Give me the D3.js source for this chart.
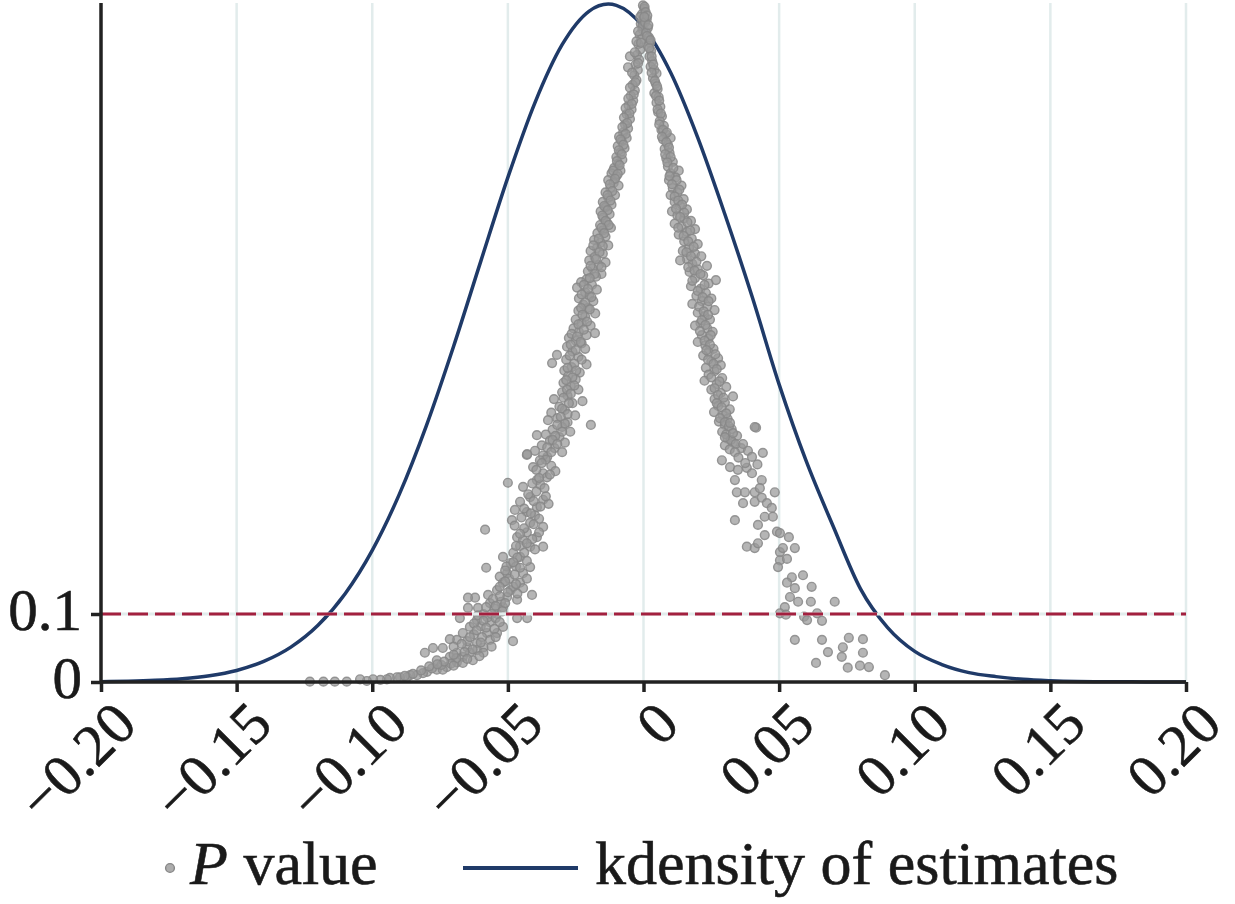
<!DOCTYPE html>
<html>
<head>
<meta charset="utf-8">
<script src="https://cdn.jsdelivr.net/npm/d3@7"></script>
<style>
  html, body { margin: 0; padding: 0; background: #ffffff; }
  svg { display: block; }
  text { font-family: "Liberation Serif", "Times New Roman", serif; fill: #1a1a1a; stroke: #1a1a1a; stroke-width: 0.6; }
</style>
</head>
<body>
<svg id="chart" width="1235" height="904"></svg>
<script>
// ---------------- data ----------------
const xTicks = [-0.20, -0.15, -0.10, -0.05, 0, 0.05, 0.10, 0.15, 0.20];
const xTickLabels = ["\u22120.20", "\u22120.15", "\u22120.10", "\u22120.05", "0", "0.05", "0.10", "0.15", "0.20"];
const yTicks = [0, 0.1];
const yTickLabels = ["0", "0.1"];
const pThreshold = 0.1;

// kernel density of estimates (scaled to the plot height)
const kdX = [-0.20,-0.19,-0.18,-0.17,-0.16,-0.15,-0.14,-0.13,-0.12,-0.11,-0.10,-0.09,-0.08,-0.07,-0.06,-0.05,-0.04,-0.03,-0.02,-0.013,-0.01,0.00,0.01,0.02,0.03,0.04,0.05,0.06,0.07,0.08,0.09,0.10,0.11,0.12,0.13,0.14,0.15,0.16,0.17,0.18,0.19,0.20];
const kdY = [0.0005,0.0011,0.0024,0.0048,0.0092,0.0170,0.0303,0.0513,0.0834,0.1299,0.1936,0.2763,0.3775,0.4938,0.6186,0.7420,0.8521,0.9372,0.9867,0.9970,0.9951,0.9631,0.8963,0.8006,0.6879,0.5673,0.4377,0.3247,0.2283,0.1370,0.0800,0.0450,0.0256,0.0138,0.0079,0.0039,0.0019,0.0008,0.0004,0.0002,0.0001,0.0000];

// P values of placebo estimates: [estimate, p]
const pLeftUpper = [[-0.0002,0.995],[0.0003,0.99],[-0.0006,0.982],[0.0000,0.975],[-0.0010,0.968],[-0.0004,0.96],[-0.0014,0.952],[-0.0008,0.945],[-0.0019,0.938],[-0.0012,0.93],[-0.0024,0.922],[-0.0016,0.915],[-0.0029,0.908],[-0.0050,0.92],[-0.0057,0.904],[-0.0021,0.9],[-0.0034,0.892],[-0.0026,0.885],[-0.0040,0.878],[-0.0032,0.87],[-0.0047,0.862],[-0.0038,0.855],[-0.0055,0.848],[-0.0044,0.842],[-0.0062,0.835],[-0.0050,0.828],[-0.0068,0.82],[-0.0057,0.814],[-0.0075,0.808],[-0.0090,0.802],[-0.0062,0.8],[-0.0080,0.795],[-0.0095,0.788],[-0.0070,0.785],[-0.0086,0.778],[-0.0100,0.772],[-0.0078,0.768],[-0.0093,0.762],[-0.0108,0.756],[-0.0085,0.752],[-0.0118,0.748],[-0.0100,0.744],[-0.0130,0.738],[-0.0110,0.734],[-0.0092,0.73],[-0.0122,0.726],[-0.0140,0.72],[-0.0105,0.716],[-0.0130,0.712],[-0.0150,0.706],[-0.0118,0.702],[-0.0140,0.698],[-0.0158,0.692],[-0.0125,0.688],[-0.0148,0.683],[-0.0135,0.676],[-0.0160,0.672],[-0.0120,0.668],[-0.0150,0.664],[-0.0170,0.66],[-0.0140,0.655],[-0.0182,0.65],[-0.0158,0.646],[-0.0130,0.642],[-0.0172,0.638],[-0.0195,0.634],[-0.0150,0.63],[-0.0180,0.625],[-0.0200,0.62],[-0.0140,0.617],[-0.0165,0.613],[-0.0188,0.608],[-0.0205,0.604],[-0.0155,0.6],[-0.0175,0.596],[-0.0210,0.592],[-0.0230,0.588],[-0.0190,0.584],[-0.0245,0.58],[-0.0172,0.577],[-0.0215,0.573],[-0.0200,0.568],[-0.0238,0.564],[-0.0185,0.56],[-0.0222,0.555],[-0.0205,0.55],[-0.0240,0.546],[-0.0178,0.542],[-0.0215,0.537],[-0.0250,0.533],[-0.0228,0.528],[-0.0195,0.524],[-0.0258,0.52],[-0.0238,0.515],[-0.0179,0.513],[-0.0210,0.51],[-0.0275,0.506],[-0.0250,0.502],[-0.0228,0.498],[-0.0282,0.493],[-0.0215,0.49],[-0.0262,0.486],[-0.0319,0.481],[-0.0240,0.478],[-0.0285,0.474],[-0.0337,0.469],[-0.0210,0.467],[-0.0265,0.463],[-0.0292,0.458],[-0.0235,0.455],[-0.0278,0.45],[-0.0250,0.445],[-0.0295,0.44],[-0.0268,0.435],[-0.0240,0.43],[-0.0300,0.426],[-0.0280,0.421],[-0.0330,0.416],[-0.0225,0.413],[-0.0262,0.41],[-0.0310,0.405],[-0.0290,0.4],[-0.0340,0.396],[-0.0252,0.392],[-0.0318,0.388],[-0.0352,0.385],[-0.0280,0.382],[-0.0194,0.378],[-0.0300,0.375],[-0.0335,0.371],[-0.0270,0.368],[-0.0360,0.364],[-0.0393,0.363],[-0.0310,0.36],[-0.0345,0.355],[-0.0290,0.352],[-0.0375,0.348],[-0.0328,0.344],[-0.0400,0.34],[-0.0300,0.338],[-0.0430,0.334],[-0.0355,0.331],
[-0.0012,0.978],[-0.0003,0.965],[-0.0020,0.957],[-0.0026,0.942],[-0.0009,0.94],[-0.0032,0.926],[-0.0020,0.91],[-0.0042,0.896],[-0.0030,0.882],[-0.0050,0.874],[-0.0036,0.864],[-0.0056,0.858],[-0.0043,0.85],[-0.0066,0.844],[-0.0052,0.836],[-0.0072,0.83],[-0.0060,0.822],[-0.0078,0.816],[-0.0066,0.806],[-0.0085,0.798],[-0.0074,0.79],[-0.0091,0.782],[-0.0080,0.776],[-0.0098,0.766],[-0.0088,0.76],[-0.0112,0.752],[-0.0095,0.747],[-0.0105,0.74],[-0.0124,0.732],[-0.0115,0.722],[-0.0133,0.716],[-0.0122,0.708],[-0.0145,0.7],[-0.0132,0.694],[-0.0152,0.686],[-0.0140,0.678],[-0.0128,0.672],[-0.0155,0.668],[-0.0145,0.66],[-0.0165,0.652],[-0.0150,0.641],[-0.0185,0.642],[-0.0162,0.632],[-0.0175,0.622],[-0.0155,0.61],[-0.0195,0.612],[-0.0180,0.6],[-0.0198,0.594],[-0.0220,0.584],[-0.0205,0.578],[-0.0228,0.57],[-0.0192,0.566],[-0.0215,0.558],[-0.0230,0.55],[-0.0198,0.548],[-0.0225,0.54],[-0.0208,0.53],[-0.0240,0.526],[-0.0220,0.518],[-0.0265,0.512],[-0.0245,0.508],[-0.0232,0.5],[-0.0268,0.496],[-0.0250,0.488],[-0.0272,0.48],[-0.0228,0.474],[-0.0255,0.468],[-0.0280,0.462],[-0.0248,0.458],[-0.0262,0.448],[-0.0285,0.444],[-0.0255,0.436],[-0.0282,0.43],[-0.0268,0.424],[-0.0295,0.418],[-0.0275,0.41],[-0.0300,0.402],[-0.0280,0.394],[-0.0305,0.39],[-0.0290,0.38],[-0.0318,0.378],[-0.0300,0.368],[-0.0325,0.362],[-0.0335,0.356],[-0.0318,0.35],[-0.0355,0.345],[-0.0340,0.338],[-0.0370,0.333]];

const pLeftLower = [[-0.0360,0.327],[-0.0382,0.326],[-0.0407,0.316],[-0.0340,0.318],[-0.0370,0.307],[-0.0393,0.297],[-0.0356,0.301],[-0.0325,0.31],[-0.0429,0.335],[-0.0444,0.287],[-0.0380,0.29],[-0.0418,0.272],[-0.0370,0.268],[-0.0393,0.257],[-0.0350,0.262],[-0.0500,0.293],[-0.0474,0.253],[-0.0485,0.238],[-0.0418,0.234],[-0.0370,0.228],[-0.0393,0.213],[-0.0466,0.213],[-0.0444,0.209],[-0.0418,0.199],[-0.0370,0.199],[-0.0584,0.224],[-0.0455,0.184],[-0.0518,0.184],[-0.0490,0.175],[-0.0418,0.169],[-0.0580,0.168],[-0.0503,0.16],[-0.0444,0.16],[-0.0455,0.146],[-0.0518,0.146],[-0.0444,0.138],[-0.0490,0.135],[-0.0540,0.135],[-0.0573,0.128],[-0.0411,0.128],[-0.0503,0.125],[-0.0621,0.124],[-0.0647,0.124],[-0.0466,0.121],[-0.0566,0.116],[-0.0518,0.11],[-0.0647,0.109],[-0.0610,0.109],[-0.0540,0.10],[-0.0590,0.10],[-0.0677,0.094],[-0.0429,0.094],[-0.0466,0.094],[-0.0614,0.091],[-0.0566,0.088],[-0.0518,0.081],[-0.0640,0.081],[-0.0540,0.072],[-0.0577,0.072],[-0.0666,0.072],[-0.0566,0.062],[-0.0688,0.062],[-0.0714,0.063],[-0.0481,0.06],[-0.0614,0.057],[-0.0590,0.051],[-0.0650,0.051],[-0.0740,0.05],[-0.0776,0.05],[-0.0614,0.047],[-0.0640,0.043],[-0.0590,0.043],[-0.0688,0.043],[-0.0806,0.043],[-0.0666,0.037],[-0.0714,0.037],[-0.0629,0.032],[-0.0762,0.032],[-0.0688,0.029],[-0.0666,0.028],[-0.0725,0.022],[-0.0762,0.018],[-0.0740,0.018],[-0.0798,0.015],[-0.0813,0.013],[-0.0835,0.010],[-0.0860,0.010],[-0.0872,0.007],[-0.0898,0.007],[-0.0909,0.007],[-0.0935,0.006],[-0.0946,0.004],[-0.0970,0.003],[-0.0997,0.004],[-0.1020,0.0015],[-0.1045,0.004],[-0.1094,0.0005],[-0.1138,0.0005],[-0.1180,0.0005],[-0.1230,0.0005],[-0.0430,0.25],[-0.0455,0.265],[-0.0400,0.245],[-0.0475,0.23],[-0.0430,0.22],[-0.0455,0.2],[-0.0480,0.19],[-0.0470,0.17],[-0.0505,0.17],[-0.0495,0.152],[-0.0530,0.155],[-0.0480,0.14],[-0.0525,0.118],[-0.0550,0.108],[-0.0575,0.095],[-0.0600,0.082],[-0.0625,0.07],[-0.0650,0.06],[-0.0700,0.052],[-0.0560,0.052],[-0.0690,0.035],[-0.0710,0.027],[-0.0745,0.025],[-0.0780,0.02],[-0.0820,0.017],[-0.0850,0.012],[-0.0880,0.009],
[-0.0375,0.322],[-0.0395,0.312],[-0.0345,0.305],[-0.0385,0.3],[-0.0410,0.292],[-0.0365,0.285],[-0.0395,0.28],[-0.0425,0.276],[-0.0360,0.273],[-0.0405,0.266],[-0.0380,0.258],[-0.0440,0.255],[-0.0415,0.248],[-0.0385,0.24],[-0.0450,0.242],[-0.0405,0.232],[-0.0440,0.226],[-0.0385,0.22],[-0.0455,0.218],[-0.0410,0.21],[-0.0430,0.204],[-0.0470,0.2],[-0.0400,0.195],[-0.0440,0.19],[-0.0465,0.183],[-0.0430,0.178],[-0.0480,0.176],[-0.0455,0.168],[-0.0510,0.164],[-0.0475,0.158],[-0.0430,0.152],[-0.0510,0.148],[-0.0470,0.144],[-0.0530,0.14],[-0.0500,0.132],[-0.0465,0.13],[-0.0530,0.126],[-0.0555,0.122],[-0.0510,0.116],[-0.0545,0.112],[-0.0580,0.11],[-0.0520,0.104],[-0.0560,0.1],[-0.0610,0.098],[-0.0545,0.094],[-0.0590,0.09],[-0.0530,0.088],[-0.0625,0.086],[-0.0580,0.08],[-0.0550,0.078],[-0.0615,0.076],[-0.0595,0.066],[-0.0640,0.066],[-0.0545,0.066],[-0.0600,0.058],[-0.0670,0.056],[-0.0630,0.048],[-0.0660,0.044],[-0.0605,0.038],[-0.0700,0.04],[-0.0650,0.034],[-0.0735,0.03],[-0.0700,0.024],[-0.0760,0.026],[-0.0790,0.023]];

const pRightUpper = [[0.0004,0.993],[0.0008,0.985],[0.0012,0.975],[0.0006,0.97],[0.0016,0.962],[0.0010,0.955],[0.0020,0.948],[0.0024,0.94],[0.0017,0.935],[0.0028,0.928],[0.0022,0.92],[0.0032,0.913],[0.0026,0.905],[0.0040,0.9],[0.0048,0.895],[0.0035,0.888],[0.0045,0.88],[0.0052,0.872],[0.0040,0.866],[0.0056,0.86],[0.0048,0.852],[0.0062,0.846],[0.0054,0.838],[0.0068,0.832],[0.0060,0.825],[0.0075,0.818],[0.0066,0.812],[0.0082,0.806],[0.0100,0.8],[0.0072,0.798],[0.0090,0.79],[0.0078,0.784],[0.0096,0.778],[0.0084,0.77],[0.0108,0.765],[0.0090,0.758],[0.0130,0.752],[0.0100,0.748],[0.0118,0.742],[0.0094,0.738],[0.0140,0.73],[0.0108,0.726],[0.0125,0.72],[0.0100,0.716],[0.0148,0.71],[0.0115,0.706],[0.0135,0.7],[0.0160,0.695],[0.0105,0.692],[0.0125,0.686],[0.0150,0.682],[0.0175,0.678],[0.0115,0.674],[0.0140,0.67],[0.0190,0.666],[0.0160,0.662],[0.0130,0.658],[0.0178,0.652],[0.0150,0.648],[0.0200,0.644],[0.0168,0.638],[0.0145,0.634],[0.0190,0.63],[0.0213,0.626],[0.0160,0.622],[0.0135,0.62],[0.0180,0.615],[0.0234,0.612],[0.0200,0.607],[0.0170,0.603],[0.0220,0.598],[0.0190,0.594],[0.0267,0.591],[0.0240,0.586],[0.0175,0.582],[0.0210,0.578],[0.0230,0.572],[0.0195,0.568],[0.0250,0.564],[0.0215,0.56],[0.0180,0.556],[0.0235,0.552],[0.0262,0.547],[0.0200,0.543],[0.0225,0.538],[0.0245,0.533],[0.0210,0.528],[0.0190,0.524],[0.0235,0.52],[0.0255,0.515],[0.0215,0.51],[0.0240,0.505],[0.0200,0.5],[0.0228,0.495],[0.0258,0.49],[0.0240,0.485],[0.0220,0.48],[0.0275,0.476],[0.0250,0.471],[0.0285,0.466],[0.0230,0.462],[0.0262,0.457],[0.0240,0.452],[0.0290,0.447],[0.0225,0.443],[0.0270,0.438],[0.0305,0.434],[0.0250,0.43],[0.0285,0.425],[0.0330,0.42],[0.0262,0.416],[0.0300,0.411],[0.0275,0.406],[0.0318,0.401],[0.0260,0.397],[0.0292,0.392],[0.0310,0.387],[0.0278,0.383],[0.0415,0.374],[0.0300,0.378],[0.0325,0.372],[0.0290,0.368],[0.0345,0.362],[0.0310,0.358],[0.0330,0.352],[0.0300,0.348],[0.0360,0.344],[0.0385,0.34],
[0.0014,0.98],[0.0003,0.978],[0.0018,0.966],[0.0013,0.95],[0.0026,0.944],[0.0021,0.932],[0.0030,0.92],[0.0036,0.908],[0.0030,0.896],[0.0042,0.884],[0.0050,0.876],[0.0046,0.862],[0.0058,0.855],[0.0052,0.842],[0.0064,0.836],[0.0058,0.82],[0.0072,0.812],[0.0086,0.808],[0.0068,0.802],[0.0084,0.794],[0.0094,0.786],[0.0080,0.776],[0.0100,0.772],[0.0088,0.764],[0.0110,0.756],[0.0096,0.744],[0.0122,0.738],[0.0105,0.732],[0.0132,0.724],[0.0115,0.714],[0.0128,0.708],[0.0142,0.702],[0.0120,0.696],[0.0150,0.69],[0.0135,0.684],[0.0162,0.676],[0.0128,0.668],[0.0172,0.664],[0.0148,0.656],[0.0165,0.648],[0.0185,0.64],[0.0158,0.632],[0.0175,0.626],[0.0195,0.618],[0.0165,0.61],[0.0188,0.605],[0.0210,0.6],[0.0180,0.59],[0.0225,0.584],[0.0200,0.575],[0.0218,0.566],[0.0240,0.56],[0.0205,0.552],[0.0222,0.545],[0.0238,0.54],[0.0215,0.532],[0.0228,0.525],[0.0208,0.516],[0.0248,0.51],[0.0225,0.502],[0.0245,0.496],[0.0232,0.488],[0.0265,0.482],[0.0238,0.474],[0.0258,0.468],[0.0270,0.46],[0.0250,0.448],[0.0280,0.442],[0.0262,0.432],[0.0275,0.422],[0.0295,0.418],[0.0270,0.41],[0.0288,0.404],[0.0305,0.395],[0.0282,0.388],[0.0300,0.382],[0.0315,0.376],[0.0305,0.364],[0.0322,0.356],[0.0340,0.35],[0.0318,0.342]];

const pRightLower = [[0.0319,0.381],[0.0410,0.375],[0.0300,0.36],[0.0330,0.366],[0.0367,0.35],[0.0440,0.337],[0.0337,0.338],[0.0400,0.331],[0.0289,0.326],[0.0319,0.316],[0.0348,0.312],[0.0381,0.315],[0.0400,0.307],[0.0337,0.297],[0.0436,0.297],[0.0344,0.279],[0.0374,0.279],[0.0410,0.279],[0.0429,0.285],[0.0484,0.279],[0.0367,0.263],[0.0410,0.265],[0.0436,0.271],[0.0455,0.263],[0.0473,0.256],[0.0337,0.238],[0.0447,0.243],[0.0477,0.243],[0.0422,0.231],[0.0447,0.216],[0.0492,0.221],[0.0503,0.219],[0.0381,0.199],[0.0410,0.197],[0.0422,0.204],[0.0536,0.213],[0.0503,0.191],[0.0514,0.197],[0.0558,0.197],[0.0503,0.179],[0.0529,0.181],[0.0496,0.169],[0.0547,0.154],[0.0588,0.157],[0.0529,0.146],[0.0558,0.138],[0.0620,0.14],[0.0540,0.125],[0.0570,0.118],[0.0617,0.118],[0.0705,0.118],[0.0521,0.11],[0.0503,0.101],[0.0525,0.099],[0.0592,0.096],[0.0603,0.091],[0.0640,0.101],[0.0658,0.09],[0.0558,0.062],[0.0658,0.062],[0.0757,0.065],[0.0809,0.063],[0.0735,0.051],[0.0680,0.044],[0.0809,0.043],[0.0731,0.037],[0.0636,0.028],[0.0753,0.021],[0.0798,0.024],[0.0831,0.022],[0.0890,0.010],[0.0350,0.33],[0.0375,0.322],[0.0420,0.32]];

const legendItems = ["P value", "kdensity of estimates"];

// ---------------- drawing ----------------
const svg = d3.select("#chart");
const W = 1235, H = 904;
svg.append("rect").attr("width", W).attr("height", H).attr("fill", "#ffffff");

const x = d3.scaleLinear().domain([-0.2, 0.2]).range([101, 1186]);
const y = d3.scaleLinear().domain([0, 1]).range([682, 2]);
const yTop = 3;

const colGrid = "#e2ecec", colAxis = "#222222", colCurve = "#1f3a68",
      colDot = "#999999", colDotRing = "#878787", colRef = "#a3203f";

// vertical grid lines
svg.append("g").selectAll("line").data(xTicks.filter(t => t > -0.2))
  .join("line")
  .attr("x1", d => x(d)).attr("x2", d => x(d))
  .attr("y1", yTop).attr("y2", y(0))
  .attr("stroke", colGrid).attr("stroke-width", 2.5);

// kdensity curve
const lineGen = d3.line().x(d => x(d[0])).y(d => y(d[1])).curve(d3.curveMonotoneX);
const kd = kdX.map((v, i) => [v, kdY[i]]);
svg.append("path").datum(kd).attr("d", lineGen)
  .attr("fill", "none").attr("stroke", colCurve).attr("stroke-width", 3.5);

// scatter of p values
const allP = pLeftUpper.concat(pLeftLower, pRightUpper, pRightLower);
svg.append("g").selectAll("circle").data(allP).join("circle")
  .attr("cx", d => x(d[0])).attr("cy", d => y(d[1])).attr("r", 4.4)
  .attr("fill", colDot).attr("fill-opacity", 0.72)
  .attr("stroke", colDotRing).attr("stroke-opacity", 0.85).attr("stroke-width", 1.4);

// reference line at p = 0.1
svg.append("line").attr("x1", x(-0.2)).attr("x2", x(0.2))
  .attr("y1", y(pThreshold)).attr("y2", y(pThreshold))
  .attr("stroke", colGrid).attr("stroke-width", 3);
svg.append("line").attr("x1", x(-0.2)).attr("x2", x(0.2))
  .attr("y1", y(pThreshold)).attr("y2", y(pThreshold))
  .attr("stroke", colRef).attr("stroke-width", 3).attr("stroke-dasharray", "20 7");

// axes
const xAxis = d3.axisBottom(x).tickValues(xTicks).tickSize(10).tickFormat("");
const gx = svg.append("g").attr("transform", `translate(0,${y(0)})`).call(xAxis);
gx.select(".domain").attr("stroke", colAxis).attr("stroke-width", 3.5).attr("d", `M${x(-0.2)},0H${x(0.2)}`);
gx.selectAll(".tick line").attr("stroke", colAxis).attr("stroke-width", 3.5);

const yAxis = d3.axisLeft(y).tickValues(yTicks).tickSize(10).tickFormat("");
const gy = svg.append("g").attr("transform", `translate(${x(-0.2)},0)`).call(yAxis);
gy.select(".domain").attr("stroke", colAxis).attr("stroke-width", 3.5).attr("d", `M0,${yTop}V${y(0)}`);
gy.selectAll(".tick line").attr("stroke", colAxis).attr("stroke-width", 3.5);

// y tick labels
svg.append("g").selectAll("text").data(yTicks).join("text")
  .attr("x", 82).attr("y", d => y(d) + 16)
  .attr("text-anchor", "end").attr("font-size", 59)
  .text((d, i) => yTickLabels[i]);

// x tick labels (rotated 45°)
svg.append("g").selectAll("text").data(xTicks).join("text")
  .attr("transform", d => `translate(${x(d) + 38},727) rotate(-45)`)
  .attr("text-anchor", "end").attr("font-size", 59)
  .text((d, i) => xTickLabels[i]);

// legend
const lg = svg.append("g");
lg.append("circle").attr("cx", 170).attr("cy", 868).attr("r", 4.4)
  .attr("fill", colDot).attr("fill-opacity", 0.8).attr("stroke", colDotRing).attr("stroke-width", 1.4);
const t1 = lg.append("text").attr("x", 190).attr("y", 884).attr("font-size", 62);
t1.append("tspan").attr("font-style", "italic").text(legendItems[0].split(" ")[0]);
t1.append("tspan").text(" " + legendItems[0].split(" ").slice(1).join(" "));
lg.append("line").attr("x1", 463).attr("x2", 578).attr("y1", 868).attr("y2", 868)
  .attr("stroke", colCurve).attr("stroke-width", 4);
lg.append("text").attr("x", 595).attr("y", 884).attr("font-size", 62).text(legendItems[1]);
</script>
</body>
</html>
